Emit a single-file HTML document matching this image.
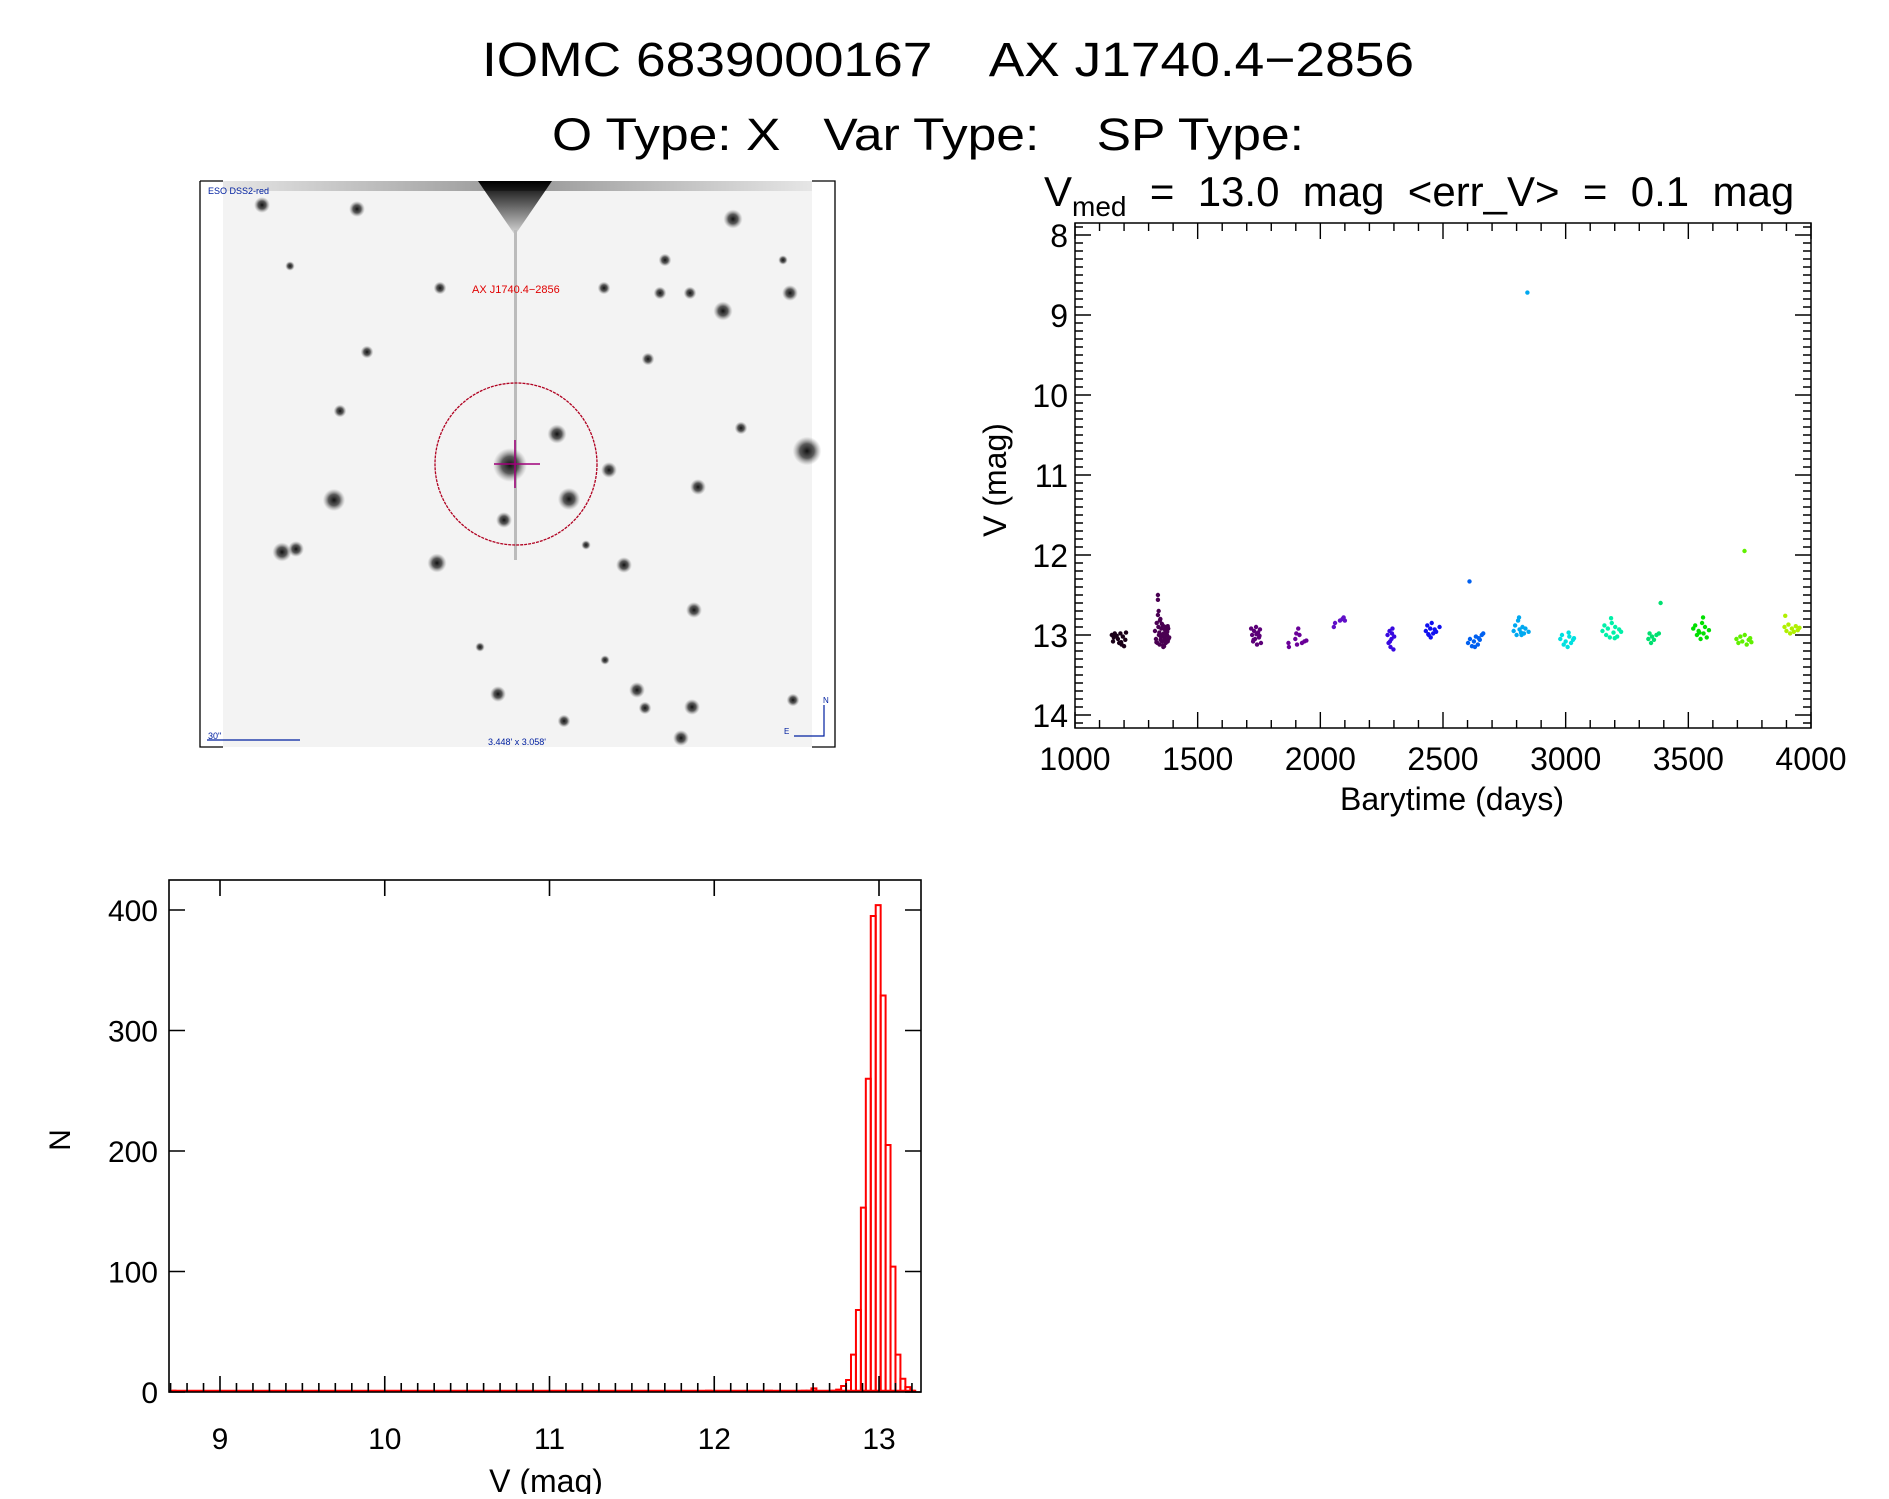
<!DOCTYPE html>
<html><head><meta charset="utf-8"><style>
html,body{margin:0;padding:0;background:#fff;}
svg text{font-family:"Liberation Sans",sans-serif;fill:#000;white-space:pre;}
</style></head><body>
<svg id="fig" width="1889" height="1494" viewBox="0 0 1889 1494" xmlns="http://www.w3.org/2000/svg" xml:space="preserve">
<text x="482" y="76" font-size="48" textLength="932" lengthAdjust="spacingAndGlyphs">IOMC 6839000167    AX J1740.4−2856</text>
<text x="552" y="150" font-size="45" textLength="752" lengthAdjust="spacingAndGlyphs">O Type: X   Var Type:    SP Type:</text>

<g id="sky">
  <defs>
    <radialGradient id="star"><stop offset="0" stop-color="#111"/><stop offset="0.5" stop-color="#333" stop-opacity="0.8"/><stop offset="1" stop-color="#888" stop-opacity="0"/></radialGradient>
    <linearGradient id="spike" x1="0" y1="0" x2="0" y2="1"><stop offset="0" stop-color="#000"/><stop offset="1" stop-color="#000" stop-opacity="0.1"/></linearGradient>
    <linearGradient id="band" x1="0" y1="0" x2="1" y2="0"><stop offset="0" stop-color="#ddd"/><stop offset="0.45" stop-color="#666"/><stop offset="0.55" stop-color="#666"/><stop offset="1" stop-color="#ddd"/></linearGradient>
  </defs>
  <rect x="223" y="181" width="589" height="566" fill="#f3f3f3"/>
  <rect x="223" y="181" width="589" height="10" fill="url(#band)" opacity="0.6"/>
  <path d="M478,181 L552,181 L515,235 Z" fill="url(#spike)"/>
  <rect x="514" y="230" width="3" height="330" fill="#bbb"/>
  <g id="stars"></g>
  <ellipse cx="516" cy="464" rx="81" ry="81" fill="none" stroke="#b00020" stroke-width="1.3" stroke-dasharray="3,1"/>
  <path d="M515,440 V488 M494,464 H540" stroke="#a0007a" stroke-width="1.5"/>
  <text x="472" y="293" font-size="11" style="fill:#e00000">AX J1740.4−2856</text>
  <text x="208" y="194" font-size="9" style="fill:#0020a0">ESO DSS2-red</text>
  <path d="M207,740 H300" stroke="#0020a0" stroke-width="1.3"/>
  <text x="208" y="739" font-size="9" style="fill:#0020a0">30"</text>
  <text x="488" y="745" font-size="9" style="fill:#0020a0">3.448' x 3.058'</text>
  <path d="M794,736 H824 V705" stroke="#0020a0" stroke-width="1.2" fill="none"/>
  <text x="823" y="703" font-size="8" style="fill:#0020a0">N</text>
  <text x="784" y="734" font-size="8" style="fill:#0020a0">E</text>
  <path d="M200,181 H223 M812,181 H835 V747 H812 M223,747 H200 V181" stroke="#000" stroke-width="1.3" fill="none"/>
</g>

<g id="lc"></g>
<g id="hist"></g>
</svg>
<script>
// ---- light curve data ----
const seasonTimes = [
 [1150,1155,1158,1162,1175,1180,1185,1190,1195,1200,1205,1208,1188,1170],
 [1326,1330,1333,1336,1340,1342,1345,1348,1350,1352,1355,1358,1360,1362,1365,1368,1370,1372,1375,1378,1380,1384,1338,1344,1349,1354,1360,1366,1372,1378,1332,1346,1356,1366,1376,1341,1363,1381,1338,1338],
 [1718,1722,1726,1730,1734,1738,1742,1746,1750,1754,1758,1728,1740,1752],
 [1870,1872,1898,1902,1905,1915,1925,1935,1943,1910],
 [2055,2060,2080,2090,2100,2095],
 [2274,2278,2282,2286,2290,2294,2298,2301,2284,2292],
 [2430,2436,2442,2448,2454,2460,2466,2472,2486,2450,2440],
 [2608,2602,2610,2618,2626,2634,2642,2650,2658,2664,2630,2646],
 [2844,2788,2794,2800,2806,2812,2818,2824,2830,2836,2849,2810,2820],
 [2978,2985,2992,3000,3008,3015,3022,3030,3034,3012],
 [3150,3158,3165,3172,3180,3188,3195,3202,3210,3218,3226,3185,3200],
 [3337,3342,3348,3352,3360,3370,3380,3387],
 [3520,3528,3535,3542,3550,3556,3562,3568,3575,3584,3545,3560],
 [3729,3696,3704,3712,3720,3730,3738,3746,3752,3757],
 [3892,3900,3908,3915,3922,3930,3938,3946,3953,3895]
];
const seasonMags = [
 [13.00,13.08,13.03,12.98,13.05,13.10,12.98,13.12,13.02,13.14,13.06,12.97,13.09,13.01],
 [12.95,13.05,12.85,13.10,12.90,13.00,13.12,12.80,13.02,12.92,13.08,12.88,13.15,12.98,13.04,12.90,13.10,12.95,13.00,13.08,12.92,13.03,12.75,12.97,13.06,12.86,13.13,12.93,13.01,12.89,13.09,12.82,13.00,13.07,12.96,12.70,13.14,13.05,12.50,12.56],
 [12.92,13.00,13.08,12.95,13.05,12.90,13.12,12.97,13.03,12.93,13.10,13.06,12.99,13.01],
 [13.10,13.15,13.05,12.98,13.12,13.00,13.10,13.08,13.07,12.92],
 [12.90,12.85,12.82,12.80,12.82,12.78],
 [13.00,13.10,12.95,13.15,13.05,12.92,13.18,13.02,13.08,12.98],
 [12.95,12.88,13.00,12.92,12.85,12.98,12.93,12.96,12.90,13.03,12.99],
 [12.33,13.10,13.05,13.14,13.08,13.02,13.12,13.06,13.00,12.98,13.15,13.04],
 [8.72,12.95,12.88,13.00,12.82,12.93,12.97,12.90,12.98,12.92,12.96,12.78,13.00],
 [13.05,13.00,13.12,13.08,13.15,13.02,13.10,13.06,13.04,12.97],
 [12.95,12.88,13.00,12.92,13.03,12.85,12.97,12.90,13.02,12.93,12.96,12.79,13.04],
 [13.05,12.98,13.10,13.02,13.06,13.00,12.98,12.60],
 [12.92,12.88,13.00,12.95,13.05,12.85,12.98,12.90,13.03,12.94,12.97,12.78],
 [11.95,13.05,13.10,13.02,13.08,13.00,13.12,13.06,13.04,13.09],
 [12.90,12.95,12.87,12.98,12.92,12.96,12.89,12.94,12.91,12.76]
];
const seasonColors = ["#1a0018","#4a0052","#5c0078","#6a0098","#6010c8","#3808e0","#1010f0","#0060f0","#00a8f0","#00e0e0","#00f0a8","#00e070","#00e000","#60f000","#b0f000"];
const lcXTicks = [1000,1500,2000,2500,3000,3500,4000];
const lcYTicks = [8,9,10,11,12,13,14];

// ---- histogram data (bin width 0.03 mag) ----
const binLefts = [8.70,11.95,12.32,12.53,12.56,12.59,12.71,12.74,12.77,12.80,12.83,12.86,12.89,12.92,12.95,12.98,13.01,13.04,13.07,13.10,13.13,13.16,13.19];
const binCounts = [1,1,1,1,1,3,1,2,5,10,31,68,153,260,395,404,329,205,104,31,11,4,1];
const histXTicks = [9,10,11,12,13];
const histYTicks = [0,100,200,300,400];

const NS="http://www.w3.org/2000/svg";
function mk(tag,attrs,parent){const e=document.createElementNS(NS,tag);for(const k in attrs)e.setAttribute(k,attrs[k]);parent.appendChild(e);return e;}

// stars in sky image
const starPos=[[262,205,5],[357,209,5],[733,219,6],[290,266,3],[665,260,4],[783,260,3],[440,288,4],[604,288,4],[660,293,4],[690,293,4],[790,293,5],[723,311,6],[367,352,4],[648,359,4],[340,411,4],[741,428,4],[557,434,6],[807,451,9],[609,470,5],[698,487,5],[334,500,7],[504,520,5],[569,499,7],[296,549,5],[282,552,6],[437,563,6],[624,565,5],[586,545,3],[694,610,5],[498,694,5],[637,690,5],[645,708,4],[692,707,5],[793,700,4],[564,721,4],[681,738,5],[605,660,3],[480,647,3]];
const sg=document.getElementById('stars');
starPos.forEach(s=>{const c=mk('circle',{cx:s[0],cy:s[1],r:s[2]*1.6,fill:'url(#star)'},sg);

});
const bs=mk('circle',{cx:510,cy:465,r:17,fill:'url(#star)'},sg);



// ---- light curve ----
const lc=document.getElementById('lc');
const L={x0:1075,x1:1811,y0:223,y1:728};
const lx=d=>L.x0+(d-1000)*(L.x1-L.x0)/3000;
const ly=m=>235+(m-8)*80;
mk('rect',{x:L.x0,y:L.y0,width:L.x1-L.x0,height:L.y1-L.y0,fill:'none',stroke:'#000','stroke-width':1.5},lc);
let tp='';
for(let d=1000;d<=4000;d+=100){const X=lx(d),len=(d%500==0)?16:8;tp+=`M${X},${L.y1}v${-len}M${X},${L.y0}v${len}`;}
for(let i=0;i<=63;i++){const m=7.9+i*0.1;const Y=ly(m);if(Y<L.y0||Y>L.y1)continue;const len=(Math.abs(m-Math.round(m))<0.01)?16:8;tp+=`M${L.x0},${Y}h${len}M${L.x1},${Y}h${-len}`;}
const lct=mk('path',{d:tp,stroke:'#000','stroke-width':1.4,fill:'none'},lc);


lcXTicks.forEach(v=>{const t=mk('text',{x:lx(v),y:770,'font-size':32,'text-anchor':'middle'},lc);t.textContent=v;

});
lcYTicks.forEach(v=>{const t=mk('text',{x:1068,y:ly(v)+12,'font-size':32,'text-anchor':'end'},lc);t.textContent=v;

});
const xt=mk('text',{x:1452,y:810,'font-size':32,'text-anchor':'middle'},lc);xt.textContent='Barytime (days)';


const yt=mk('text',{x:0,y:0,'font-size':32,'text-anchor':'middle',transform:'translate(1006,480) rotate(-90)'},lc);yt.textContent='V (mag)';


const st=mk('text',{x:1044,y:206,'font-size':42},lc);


st.innerHTML='V<tspan font-size="28" dy="10">med</tspan><tspan dy="-10">  =  13.0  mag  &lt;err_V&gt;  =  0.1  mag</tspan>';
seasonTimes.forEach((ts,si)=>{ts.forEach((d,j)=>{const c=mk('circle',{cx:lx(d),cy:ly(seasonMags[si][j]),r:2.2,fill:seasonColors[si]},lc);

});});

// ---- histogram ----
const h=document.getElementById('hist');
const H={x0:169,x1:921,y0:880,y1:1392};
const hx=m=>220+(m-9)*(879-220)/4;
const hy=n=>1392-n*(1392-910)/400;
const bw=0.03;
const base=mk('path',{d:`M${H.x0+3},${hy(0)-1}H${hx(13.22)}`,stroke:'#ff0000','stroke-width':2.5},h);


binLefts.forEach((b,i)=>{const xa=hx(b),xb=hx(b+bw),yb=hy(binCounts[i]);
const r=mk('path',{d:`M${xa},${hy(0)}V${yb}H${xb}V${hy(0)}`,stroke:'#ff0000','stroke-width':2,fill:'none'},h);

});
mk('rect',{x:H.x0,y:H.y0,width:H.x1-H.x0,height:H.y1-H.y0,fill:'none',stroke:'#000','stroke-width':1.6},h);
let hp='';
for(let i=87;i<=132;i++){const m=i/10,X=hx(m);if(X<H.x0||X>H.x1)continue;const len=(i%10==0)?16:9;hp+=`M${X},${H.y1}v${-len}`;if(i%10==0)hp+=`M${X},${H.y0}v${len}`;}
histYTicks.forEach(n=>{hp+=`M${H.x0},${hy(n)}h16M${H.x1},${hy(n)}h-16`;});
const ht=mk('path',{d:hp,stroke:'#000','stroke-width':1.6,fill:'none'},h);


histXTicks.forEach(v=>{const t=mk('text',{x:hx(v),y:1449,'font-size':30,'text-anchor':'middle'},h);t.textContent=v;

});
histYTicks.forEach(v=>{const t=mk('text',{x:158,y:hy(v)+11,'font-size':30,'text-anchor':'end'},h);t.textContent=v;

});
const hxt=mk('text',{x:546,y:1492,'font-size':32,'text-anchor':'middle'},h);hxt.textContent='V (mag)';


const hyt=mk('text',{x:0,y:0,'font-size':30,'text-anchor':'middle',transform:'translate(70,1140) rotate(-90)'},h);hyt.textContent='N';


</script>
</body></html>
